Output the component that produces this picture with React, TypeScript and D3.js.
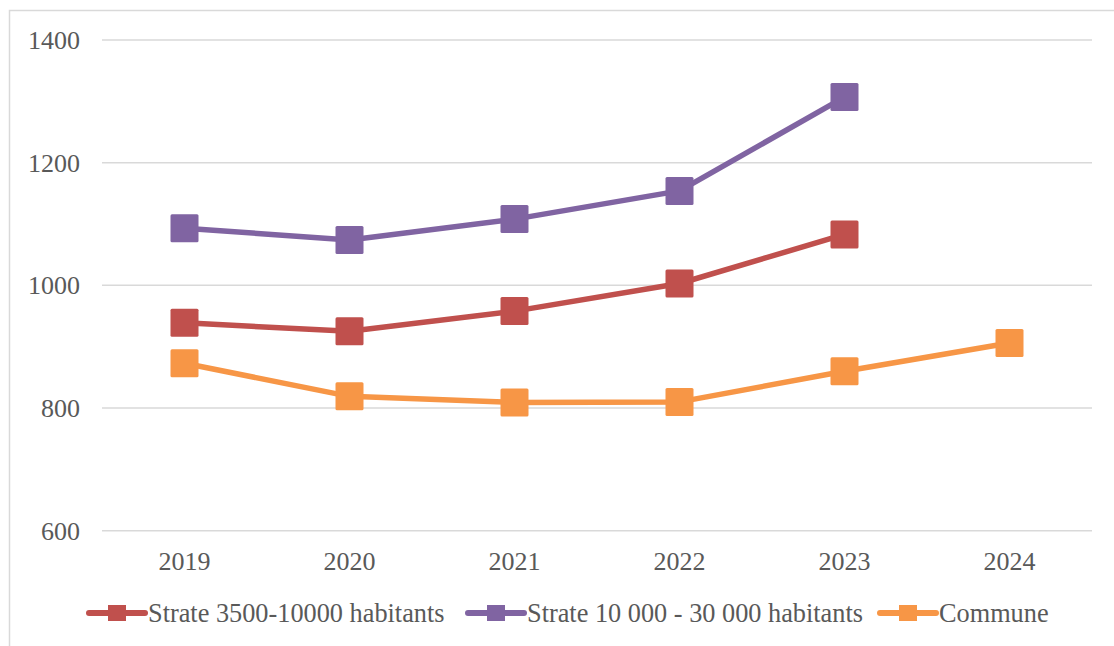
import React, { useEffect, useRef } from "react";
import * as d3 from "d3";

const years = ["2019", "2020", "2021", "2022", "2023", "2024"];
const strate3500: (number | null)[] = [939, 925, 958, 1003, 1083, null];
const strate10000: (number | null)[] = [1093, 1074, 1108, 1154, 1307, null];
const commune: (number | null)[] = [873, 819, 809, 810, 860, 906];
const yTicks = [600, 800, 1000, 1200, 1400];

const series = [
  { name: "Strate 3500-10000 habitants", values: strate3500, color: "#C0504D" },
  { name: "Strate 10 000 - 30 000 habitants", values: strate10000, color: "#8064A2" },
  { name: "Commune", values: commune, color: "#F79646" },
];

const W = 1114;
const H = 646;
const FONT = "'Liberation Serif', 'Times New Roman', serif";
const TEXT = "#595959";

export default function App() {
  const ref = useRef<SVGSVGElement>(null);

  useEffect(() => {
    const svg = d3.select(ref.current);
    svg.selectAll("*").remove();

    // frame
    svg.append("rect")
      .attr("x", 9.5).attr("y", 10.5)
      .attr("width", W + 20).attr("height", H + 20)
      .attr("fill", "white").attr("stroke", "#D9D9D9").attr("stroke-width", 1.5);

    const x = d3.scaleBand().domain(years).range([102, 1092]);
    const y = d3.scaleLinear().domain([600, 1400]).range([530.7, 40]);

    // gridlines
    svg.append("g").selectAll("line").data(yTicks).enter().append("line")
      .attr("x1", 102).attr("x2", 1092)
      .attr("y1", d => y(d)).attr("y2", d => y(d))
      .attr("stroke", "#D9D9D9").attr("stroke-width", 1.5);

    // y labels
    svg.append("g").selectAll("text").data(yTicks).enter().append("text")
      .attr("x", 80).attr("y", d => y(d))
      .attr("dy", "0.34em")
      .attr("text-anchor", "end")
      .attr("font-family", FONT).attr("font-size", 26).attr("fill", TEXT)
      .text(d => d);

    // x labels
    svg.append("g").selectAll("text").data(years).enter().append("text")
      .attr("x", d => x(d)! + x.bandwidth() / 2).attr("y", 561)
      .attr("dy", "0.34em")
      .attr("text-anchor", "middle")
      .attr("font-family", FONT).attr("font-size", 26).attr("fill", TEXT)
      .text(d => d);

    const line = d3.line<number | null>()
      .defined(d => d != null)
      .x((_, i) => x(years[i])! + x.bandwidth() / 2)
      .y(d => y(d as number));

    const ms = 28;
    series.forEach(s => {
      svg.append("path")
        .attr("d", line(s.values))
        .attr("fill", "none").attr("stroke", s.color)
        .attr("stroke-width", 5.5).attr("stroke-linejoin", "round").attr("stroke-linecap", "round");

      svg.append("g").selectAll("rect")
        .data(s.values.map((v, i) => ({ v, i })).filter(d => d.v != null))
        .enter().append("rect")
        .attr("x", d => x(years[d.i])! + x.bandwidth() / 2 - ms / 2)
        .attr("y", d => y(d.v as number) - ms / 2)
        .attr("width", ms).attr("height", ms).attr("rx", 1.5)
        .attr("fill", s.color);
    });

    // legend
    const legendX = [89, 468, 880];
    const ly = 613;
    series.forEach((s, i) => {
      const g = svg.append("g").attr("transform", `translate(${legendX[i]},${ly})`);
      g.append("line").attr("x1", 0).attr("x2", 56).attr("y1", 0).attr("y2", 0)
        .attr("stroke", s.color).attr("stroke-width", 6).attr("stroke-linecap", "round");
      g.append("rect").attr("x", 19).attr("y", -8).attr("width", 18).attr("height", 16)
        .attr("fill", s.color);
      g.append("text").attr("x", 59).attr("y", 0).attr("dy", "0.34em")
        .attr("font-family", FONT).attr("font-size", 26.3).attr("fill", TEXT)
        .text(s.name);
    });
  }, []);

  return (
    <svg ref={ref} width={W} height={H}
      style={{ position: "fixed", left: 0, top: 0, display: "block", background: "white" }} />
  );
}
